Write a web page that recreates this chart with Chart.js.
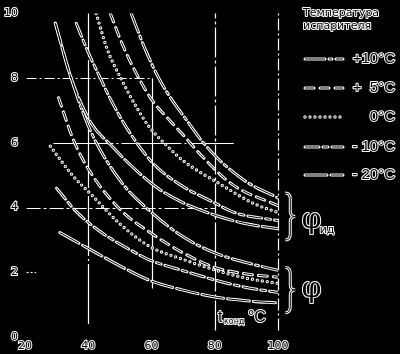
<!DOCTYPE html>
<html><head><meta charset="utf-8">
<script src="https://cdn.jsdelivr.net/npm/chart.js@4/dist/chart.umd.min.js"></script>
<style>html,body{margin:0;padding:0;background:#000;}canvas{display:block;}</style>
</head><body>
<canvas id="c" width="400" height="354"></canvas>
<script>
// ---- data ----
const xTicks = [20, 40, 60, 80, 100];
const yTicks = [0, 2, 4, 6, 8, 10];
const evapLabels = ['+10°C', '+  5°C', '0°C', '- 10°C', '- 20°C'];

// ideal coefficient φид, one array pair per evaporator temperature
const idP10X = [53.6, 58, 62, 66, 71.3, 76, 81.7, 90, 100];
const idP10Y = [10, 8.9, 8.06, 7.4, 6.68, 6.05, 5.45, 4.8, 4.3];
const idP5X  = [47, 51, 55.2, 60, 65.9, 70, 75.4, 85.5, 100];
const idP5Y  = [10, 9.0, 8.15, 7.35, 6.68, 6.25, 5.65, 4.72, 4.06];
const id0X   = [42.5, 46, 50.3, 55, 59.1, 65, 70, 81.5, 92.5, 100];
const id0Y   = [10, 8.9, 8.0, 7.15, 6.52, 5.9, 5.45, 4.74, 4.12, 3.85];
const idM10X = [36.2, 40, 43.1, 46.9, 52.2, 60.4, 69.2, 79.9, 86.2, 100];
const idM10Y = [9.7, 8.8, 8.15, 7.38, 6.46, 5.38, 4.7, 4.15, 3.85, 3.6];
const idM20X = [29.6, 34.6, 41, 47, 53, 62, 70, 80.6, 90, 100];
const idM20Y = [9.7, 8.0, 6.6, 5.95, 5.35, 4.6, 4.15, 3.75, 3.5, 3.35];

// real coefficient φ
const reP10X = [29.6, 34.6, 40.6, 50, 59.4, 70, 80, 90, 100];
const reP10Y = [9.7, 8.0, 6.4, 4.85, 3.9, 3.1, 2.6, 2.3, 2.06];
const reP5X  = [30.6, 35.3, 40, 50, 60, 70, 80, 90, 100];
const reP5Y  = [7.4, 6.1, 5.2, 3.95, 3.2, 2.6, 2.15, 1.95, 1.85];
const re0X   = [28, 35, 41, 50, 59.4, 70, 80.5, 90, 100];
const re0Y   = [5.9, 5.0, 4.4, 3.5, 2.8, 2.4, 2.06, 1.82, 1.66];
const reM10X = [30, 36, 43.2, 56.5, 59.4, 70, 80.5, 90, 100];
const reM10Y = [4.6, 3.9, 3.3, 2.52, 2.38, 2.05, 1.75, 1.53, 1.38];
const reM20X = [31, 40, 50, 59.4, 70, 80.5, 90, 100];
const reM20Y = [3.23, 2.74, 2.2, 1.75, 1.45, 1.23, 1.12, 1.05];

// ---- styles ----
const dashes = [[20, 4, 3, 4], [9, 6], [0, 5], [14, 4, 5, 4], [22, 4]];
const isDot = [false, false, true, false, false];

const curves = [
  [idP10X, idP10Y, 0], [idP5X, idP5Y, 1], [id0X, id0Y, 2], [idM10X, idM10Y, 3], [idM20X, idM20Y, 4],
  [reP10X, reP10Y, 0], [reP5X, reP5Y, 1], [re0X, re0Y, 2], [reM10X, reM10Y, 3], [reM20X, reM20Y, 4]
];

const datasets = [];
curves.forEach(([xs, ys, k]) => {
  const pts = xs.map((x, i) => ({x: x, y: ys[i]}));
  datasets.push({data: pts, borderColor: '#fff', borderWidth: isDot[k] ? 3.4 : 3, borderDash: dashes[k],
    borderCapStyle: 'round', pointRadius: 0, cubicInterpolationMode: 'monotone', order: 1, fill: false});
  datasets.push({data: pts, borderColor: '#000', borderWidth: isDot[k] ? 1.3 : 1, borderDash: dashes[k],
    borderCapStyle: isDot[k] ? 'round' : 'butt', pointRadius: 0, cubicInterpolationMode: 'monotone', order: 0, fill: false});
});

function hollowText(ctx, txt, x, y, font, align, base) {
  ctx.save();
  ctx.font = font; ctx.textAlign = align || 'left'; ctx.textBaseline = base || 'middle';
  ctx.lineJoin = 'round';
  ctx.strokeStyle = '#fff'; ctx.lineWidth = 2; ctx.strokeText(txt, x, y);
  ctx.fillStyle = '#000'; ctx.fillText(txt, x, y);
  ctx.restore();
}
function outlinedLine(ctx, pts, dash, dot) {
  [[dot ? 3.4 : 3, '#fff', 'round'], [dot ? 1.3 : 1, '#000', dot ? 'round' : 'butt']].forEach(([w, c, cap]) => {
    ctx.save(); ctx.beginPath();
    ctx.moveTo(pts[0][0], pts[0][1]);
    for (let i = 1; i < pts.length; i++) ctx.lineTo(pts[i][0], pts[i][1]);
    ctx.lineWidth = w; ctx.strokeStyle = c; ctx.lineCap = cap; ctx.setLineDash(dash); ctx.stroke(); ctx.restore();
  });
}

const gridPlugin = {
  id: 'gridSeg',
  beforeDatasetsDraw(chart) {
    const {ctx, scales: {x, y}} = chart;
    const v = [
      {x: 40, y0: 0.4, y1: 10, dash: [60, 3, 2, 3]},
      {x: 60, y0: 1.5, y1: 8, dash: []},
      {x: 80, y0: 0.2, y1: 10, dash: [30, 3, 3, 3]},
      {x: 100, y0: 0.2, y1: 10, dash: [12, 3, 2, 3]}
    ];
    const h = [
      {y: 8, x0: 20.5, x1: 60, dash: [10, 3, 2, 3]},
      {y: 6, x0: 29, x1: 86, dash: [60, 3, 2, 3]},
      {y: 4, x0: 20.5, x1: 80, dash: [14, 3, 3, 3]},
      {y: 2, x0: 20.5, x1: 23.5, dash: [2, 2]}
    ];
    ctx.save();
    ctx.strokeStyle = '#fff'; ctx.lineWidth = 1.2;
    v.forEach(s => {
      ctx.beginPath(); ctx.setLineDash(s.dash);
      const px = Math.round(x.getPixelForValue(s.x)) + 0.5;
      ctx.moveTo(px, y.getPixelForValue(s.y0)); ctx.lineTo(px, y.getPixelForValue(s.y1)); ctx.stroke();
    });
    h.forEach(s => {
      ctx.beginPath(); ctx.setLineDash(s.dash);
      const py = Math.round(y.getPixelForValue(s.y)) + 0.5;
      ctx.moveTo(x.getPixelForValue(s.x0), py); ctx.lineTo(x.getPixelForValue(s.x1), py); ctx.stroke();
    });
    ctx.restore();
  },
  afterDraw(chart) {
    const {ctx, scales: {x, y}} = chart;
    // legend title
    hollowText(ctx, 'Температура', 303, 13, '11px "DejaVu Sans"', 'left');
    hollowText(ctx, 'испарителя', 303, 26, '11px "DejaVu Sans"', 'left');
    const ly = [59, 88, 117, 147, 175];
    evapLabels.forEach((t, k) => {
      outlinedLine(ctx, [[305, ly[k]], [343, ly[k]]], dashes[k], isDot[k]);
      hollowText(ctx, t, 395, ly[k], '15px "Liberation Sans"', 'right');
    });
    // braces
    function brace(xl, ya, yb) {
      const px = x.getPixelForValue(xl);
      const t = y.getPixelForValue(ya), b = y.getPixelForValue(yb), m = (t + b) / 2;
      const path = new Path2D();
      path.moveTo(px, t);
      path.quadraticCurveTo(px + 5, t, px + 5, t + 6);
      path.lineTo(px + 5, m - 5);
      path.quadraticCurveTo(px + 5, m, px + 10, m);
      path.quadraticCurveTo(px + 5, m, px + 5, m + 5);
      path.lineTo(px + 5, b - 6);
      path.quadraticCurveTo(px + 5, b, px, b);
      ctx.save(); ctx.lineWidth = 3; ctx.strokeStyle = '#fff'; ctx.setLineDash([]); ctx.stroke(path);
      ctx.lineWidth = 1; ctx.strokeStyle = '#000'; ctx.stroke(path); ctx.restore();
    }
    brace(102.3, 4.45, 3.0);
    brace(102.3, 2.15, 0.75);
    const fx = x.getPixelForValue(107.5);
    hollowText(ctx, 'φ', fx, y.getPixelForValue(3.6), '28px "DejaVu Serif"', 'left');
    hollowText(ctx, 'ид', fx + 18, y.getPixelForValue(3.3), '11px "DejaVu Sans"', 'left');
    hollowText(ctx, 'φ', fx, y.getPixelForValue(1.45), '28px "DejaVu Serif"', 'left');
    // axis title
    const tx = x.getPixelForValue(81), ty = y.getPixelForValue(0.45);
    hollowText(ctx, 't', tx, ty, '16px "Liberation Sans"', 'left', 'alphabetic');
    hollowText(ctx, 'конд', tx + 6, ty + 2, '8px "DejaVu Sans"', 'left', 'alphabetic');
    hollowText(ctx, '°C', tx + 30, ty, '16px "Liberation Sans"', 'left', 'alphabetic');
  }
};

const tickFont = {family: 'DejaVu Sans', size: 11};
new Chart(document.getElementById('c'), {
  type: 'line',
  data: {datasets: datasets},
  plugins: [gridPlugin],
  options: {
    responsive: false, animation: false, devicePixelRatio: 1,
    layout: {padding: {top: 12, right: 122, left: 0, bottom: 0}},
    plugins: {legend: {display: false}, tooltip: {enabled: false}},
    scales: {
      x: {type: 'linear', min: 20, max: 100,
        afterBuildTicks: s => { s.ticks = xTicks.map(v => ({value: v})); },
        afterFit: s => { s.height = 17; },
        grid: {display: false, drawTicks: false}, border: {display: false},
        ticks: {color: '#000', textStrokeColor: '#fff', textStrokeWidth: 2, font: tickFont, padding: 3, maxRotation: 0, autoSkip: false}},
      y: {type: 'linear', min: 0, max: 10,
        afterBuildTicks: s => { s.ticks = yTicks.map(v => ({value: v})); },
        afterFit: s => { s.width = 25; },
        grid: {display: false, drawTicks: false}, border: {display: false},
        ticks: {color: '#000', textStrokeColor: '#fff', textStrokeWidth: 2, font: tickFont, padding: 7, autoSkip: false}}
    }
  }
});
</script>
</body></html>
